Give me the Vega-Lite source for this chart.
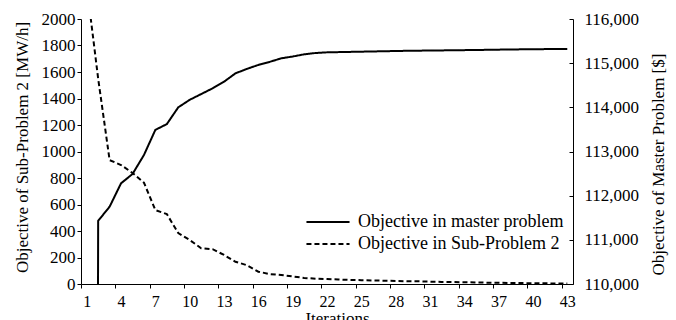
{
  "$schema": "https://vega.github.io/schema/vega-lite/v6.json",
  "autosize": {"type": "none"},
  "width": 492,
  "height": 265,
  "padding": {"left": 81, "top": 19, "right": 103, "bottom": 36},
  "background": "white",
  "config": {
    "view": {"stroke": null},
    "font": "Liberation Serif",
    "axis": {
      "grid": false,
      "domainColor": "#000000",
      "tickColor": "#000000",
      "labelColor": "#000000",
      "titleColor": "#000000",
      "labelFont": "Liberation Serif",
      "titleFont": "Liberation Serif",
      "labelFontSize": 17,
      "titleFontSize": 17,
      "titleFontWeight": "normal",
      "tickSize": 4
    }
  },
  "data": {
    "values": [
      {"iter": 1, "master": 0, "sub": 2250},
      {"iter": 2, "master": 111430, "sub": 1550},
      {"iter": 3, "master": 111750, "sub": 935},
      {"iter": 4, "master": 112280, "sub": 898},
      {"iter": 5, "master": 112490, "sub": 838},
      {"iter": 6, "master": 112920, "sub": 765},
      {"iter": 7, "master": 113490, "sub": 558},
      {"iter": 8, "master": 113620, "sub": 528},
      {"iter": 9, "master": 114000, "sub": 384},
      {"iter": 10, "master": 114170, "sub": 332},
      {"iter": 11, "master": 114300, "sub": 270},
      {"iter": 12, "master": 114430, "sub": 263},
      {"iter": 13, "master": 114580, "sub": 219},
      {"iter": 14, "master": 114770, "sub": 168},
      {"iter": 15, "master": 114870, "sub": 142},
      {"iter": 16, "master": 114960, "sub": 93},
      {"iter": 17, "master": 115030, "sub": 75},
      {"iter": 18, "master": 115110, "sub": 68},
      {"iter": 19, "master": 115150, "sub": 57},
      {"iter": 20, "master": 115200, "sub": 46},
      {"iter": 21, "master": 115230, "sub": 40},
      {"iter": 22, "master": 115245, "sub": 37},
      {"iter": 23, "master": 115250, "sub": 34},
      {"iter": 24, "master": 115255, "sub": 31},
      {"iter": 25, "master": 115260, "sub": 29},
      {"iter": 26, "master": 115265, "sub": 27},
      {"iter": 27, "master": 115270, "sub": 25},
      {"iter": 28, "master": 115275, "sub": 23},
      {"iter": 29, "master": 115280, "sub": 21},
      {"iter": 30, "master": 115283, "sub": 20},
      {"iter": 31, "master": 115286, "sub": 18},
      {"iter": 32, "master": 115289, "sub": 16},
      {"iter": 33, "master": 115292, "sub": 15},
      {"iter": 34, "master": 115295, "sub": 13},
      {"iter": 35, "master": 115298, "sub": 12},
      {"iter": 36, "master": 115302, "sub": 10},
      {"iter": 37, "master": 115306, "sub": 9},
      {"iter": 38, "master": 115310, "sub": 8},
      {"iter": 39, "master": 115313, "sub": 7},
      {"iter": 40, "master": 115316, "sub": 6},
      {"iter": 41, "master": 115318, "sub": 5},
      {"iter": 42, "master": 115320, "sub": 4},
      {"iter": 43, "master": 115321, "sub": 3}
    ]
  },
  "encoding": {
    "x": {
      "field": "iter",
      "type": "quantitative",
      "scale": {"domain": [0.5, 43.5], "nice": false, "zero": false},
      "axis": {
        "values": [0.5, 3.5, 6.5, 9.5, 12.5, 15.5, 18.5, 21.5, 24.5, 27.5, 30.5, 33.5, 36.5, 39.5, 42.5],
        "labelExpr": "format(datum.value + 0.5, 'd')",
        "labelOffset": 5.7,
        "labelPadding": 5,
        "labelFontSize": 16,
        "labelFlush": false,
        "title": "Iterations",
        "titleX": 256,
        "titleY": 26,
        "titleBaseline": "top",
        "titleAlign": "center"
      }
    }
  },
  "layer": [
    {
      "mark": {"type": "line", "color": "#000000", "strokeWidth": 2, "clip": true},
      "encoding": {
        "y": {
          "field": "sub",
          "type": "quantitative",
          "scale": {"domain": [0, 2000], "nice": false},
          "axis": {
            "orient": "left",
            "values": [0, 200, 400, 600, 800, 1000, 1200, 1400, 1600, 1800, 2000],
            "format": "d",
            "labelPadding": 2,
            "title": "Objective of Sub-Problem 2 [MW/h]",
            "titleAngle": -90,
            "titleX": -59,
            "titleY": 128,
            "titleAlign": "center",
            "titleBaseline": "middle"
          }
        },
        "strokeDash": {
          "datum": "Objective in Sub-Problem 2",
          "scale": {
            "domain": ["Objective in master problem", "Objective in Sub-Problem 2"],
            "range": [[1, 0], [5, 3]]
          },
          "legend": {
            "orient": "none",
            "legendX": 238,
            "legendY": 194,
            "title": null,
            "padding": 0,
            "symbolType": "M-4,0H4",
            "symbolSize": 116,
            "symbolStrokeWidth": 2,
            "symbolStrokeColor": "#000000",
            "symbolFillColor": "transparent",
            "labelFont": "Liberation Serif",
            "labelFontSize": 18,
            "labelColor": "#000000",
            "labelOffset": 21,
            "labelLimit": 0,
            "rowPadding": 4
          }
        }
      }
    },
    {
      "mark": {"type": "line", "color": "#000000", "strokeWidth": 2, "clip": true},
      "encoding": {
        "y": {
          "field": "master",
          "type": "quantitative",
          "scale": {"domain": [110000, 116000], "nice": false, "zero": false},
          "axis": {
            "orient": "right",
            "values": [110000, 111000, 112000, 113000, 114000, 115000, 116000],
            "format": ",d",
            "tickSize": -4,
            "labelPadding": 15,
            "title": "Objective of Master Problem [$]",
            "titleAngle": -90,
            "titleX": 85,
            "titleY": 145,
            "titleAlign": "center",
            "titleBaseline": "middle"
          }
        },
        "strokeDash": {"datum": "Objective in master problem"}
      }
    }
  ],
  "resolve": {"scale": {"y": "independent"}}
}
